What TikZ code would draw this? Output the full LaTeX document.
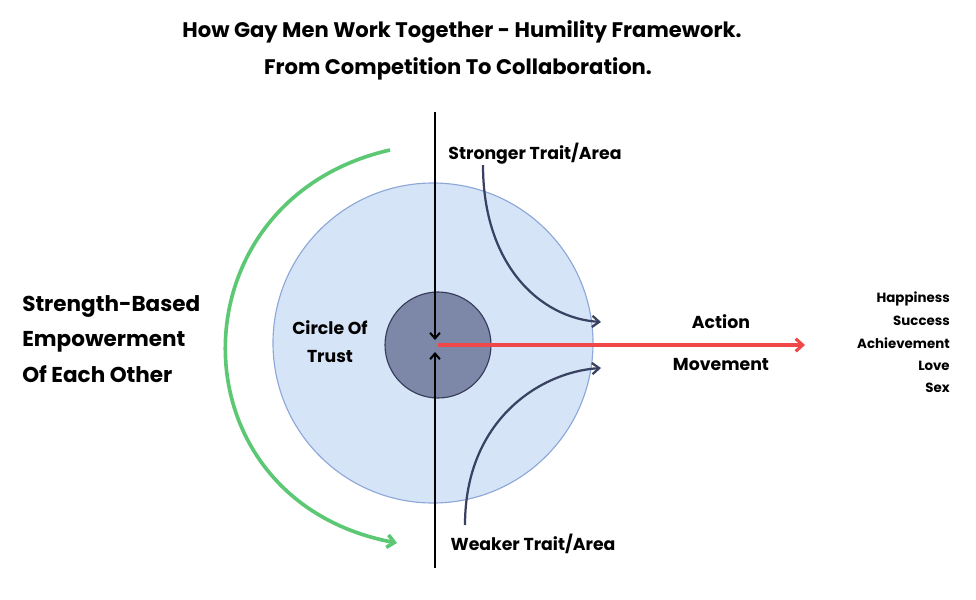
\documentclass[tikz,border=0pt]{standalone}
\usepackage{fontspec}
\setmainfont{Poppins}
\usetikzlibrary{arrows.meta}
\definecolor{bigfill}{HTML}{D6E4F8}
\definecolor{bigdraw}{HTML}{8DA7D8}
\definecolor{smfill}{HTML}{7D87A8}
\definecolor{smdraw}{HTML}{363B58}
\definecolor{curvec}{HTML}{3A4262}
\definecolor{redc}{HTML}{F04848}
\definecolor{greenc}{HTML}{5CC874}
\begin{document}
\begin{tikzpicture}[x=0.025cm,y=-0.025cm,
  lbl/.style={font=\fontsize{12.3}{14}\selectfont\bfseries, inner sep=0},
  sm/.style={font=\fontsize{9.5}{11}\selectfont\bfseries, inner sep=0, anchor=east},
  curve/.style={draw=curvec, line width=1.6pt, -{Straight Barb[length=5pt,width=8pt]}}]
\useasboundingbox (0,0) rectangle (976,600);
\node[font=\fontsize{15}{17}\selectfont\bfseries] (t1) at (462,32) {How Gay Men Work Together - Humility Framework.};
\node[font=\fontsize{15}{17}\selectfont\bfseries] (t2) at (458,69) {From Competition To Collaboration.};
\node[circle, draw=bigdraw, fill=bigfill, line width=0.8pt, minimum size=320*0.025cm] (big) at (433,343) {};
\node[circle, draw=smdraw, fill=smfill, line width=0.8pt, minimum size=106*0.025cm] (small) at (438,345) {};
\coordinate (vt) at (435,112); \coordinate (vb) at (435,568);
\coordinate (vm1) at (435,340); \coordinate (vm2) at (435,352);
\draw[line width=1.5pt, -{Straight Barb[length=4pt,width=7pt]}] (vt) -- (vm1);
\draw[line width=1.5pt, -{Straight Barb[length=4pt,width=7pt]}] (vb) -- (vm2);
\coordinate (rs) at (438,345); \coordinate (re) at (805,345);
\draw[draw=redc, line width=2.2pt, -{Straight Barb[length=5pt,width=9pt]}] (rs) -- (re);
\coordinate (g1) at (390,150); \coordinate (g2) at (397,543);
\draw[draw=greenc, line width=2.6pt, -{Straight Barb[length=5pt,width=9pt]}] (g1) .. controls (170,200) and (170,500) .. (g2);
\coordinate (c1) at (483,165); \coordinate (c2) at (601,322);
\draw[curve] (c1) .. controls (483,265) and (540,318) .. (c2);
\coordinate (d1) at (465,525); \coordinate (d2) at (601,368);
\draw[curve] (d1) .. controls (465,420) and (540,372) .. (d2);
\node[lbl] (st) at (535,154) {Stronger Trait/Area};
\node[lbl] (wt) at (533,544) {Weaker Trait/Area};
\node[lbl, align=center, font=\fontsize{12.3}{20}\selectfont\bfseries] (ct) at (330,342) {Circle Of\\Trust};
\node[lbl] (ac) at (721,322) {Action};
\node[lbl] (mv) at (721,364) {Movement};
\node[font=\fontsize{15.3}{25}\selectfont\bfseries, align=left, anchor=west, inner sep=0] (sb) at (22,339) {Strength-Based\\Empowerment\\Of Each Other};
\node[sm] (h1) at (950,299) {Happiness};
\node[sm] (h2) at (950,321) {Success};
\node[sm] (h3) at (950,343) {Achievement};
\node[sm] (h4) at (950,366) {Love};
\node[sm] (h5) at (950,388) {Sex};
\end{tikzpicture}
\end{document}
